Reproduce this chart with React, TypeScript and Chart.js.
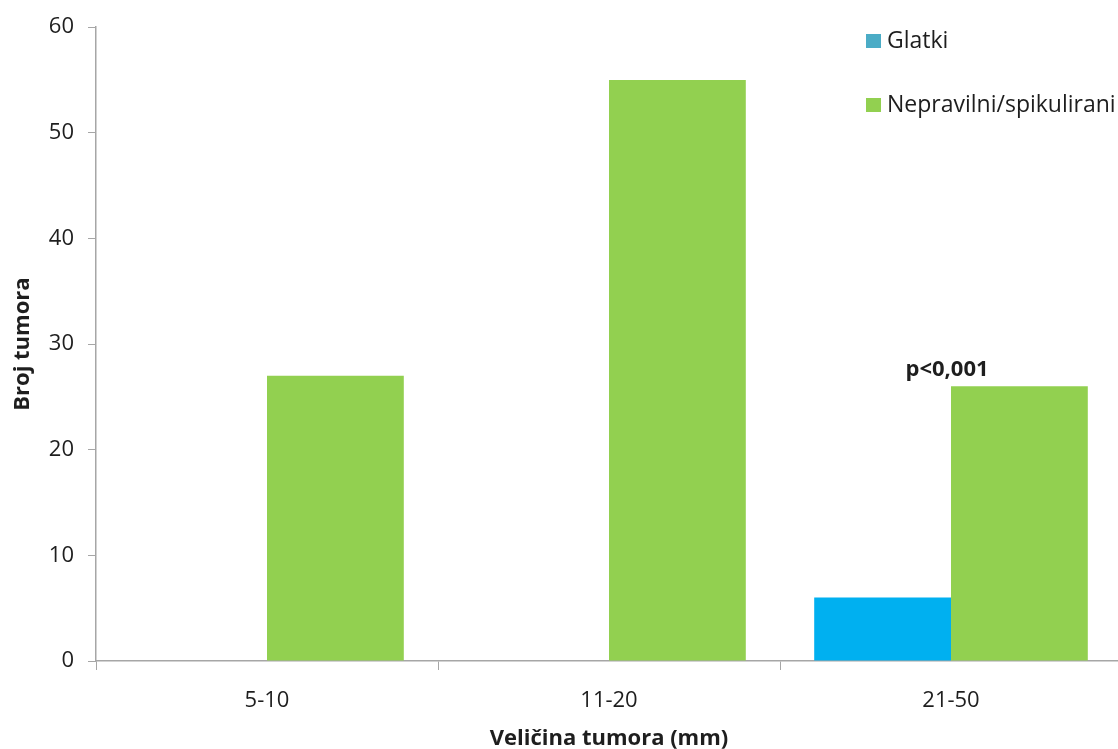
import React, { useEffect, useRef } from "react";
import { Chart, registerables } from "chart.js";

Chart.register(...registerables);

const categories = ["5-10", "11-20", "21-50"];
const glatki = [0, 0, 6];
const nepravilni = [27, 55, 26];
const yTicks = [0, 10, 20, 30, 40, 50, 60];
const seriesNames = ["Glatki", "Nepravilni/spikulirani"];
const legendColors = ["#4BACC6", "#92D050"];
const annotationText = "p<0,001";

const FONT = "'Open Sans', sans-serif";
const TEXT = "#1e1e1e";
const AXIS = "#a6a6a6";

const overlayPlugin = {
  id: "overlay",
  afterDraw(chart: any) {
    const ctx = chart.ctx;
    const xs = chart.scales.x;
    const ys = chart.scales.y;
    ctx.save();
    // annotation
    ctx.font = `bold 22px ${FONT}`;
    ctx.fillStyle = TEXT;
    ctx.textAlign = "center";
    ctx.textBaseline = "bottom";
    ctx.fillText(annotationText, xs.getPixelForValue(2) - 4, ys.getPixelForValue(nepravilni[2]) - 6);
    // legend
    ctx.textAlign = "left";
    ctx.textBaseline = "middle";
    ctx.font = `23px ${FONT}`;
    const rows = [41, 105];
    seriesNames.forEach((n, i) => {
      ctx.fillStyle = legendColors[i];
      ctx.fillRect(866, rows[i] - 7, 15, 14);
      ctx.fillStyle = TEXT;
      ctx.fillText(n, 887, rows[i]);
    });
    ctx.restore();
  },
};

export default function App() {
  const ref = useRef<HTMLCanvasElement>(null);
  useEffect(() => {
    if (!ref.current) return;
    const chart = new Chart(ref.current, {
      type: "bar",
      data: {
        labels: categories,
        datasets: [
          { label: seriesNames[0], data: glatki, backgroundColor: "#00B0F0", borderWidth: 0 },
          { label: seriesNames[1], data: nepravilni, backgroundColor: "#92D050", borderWidth: 0 },
        ],
      },
      options: {
        animation: false,
        responsive: false,
        maintainAspectRatio: false,
        layout: { padding: { top: 27, right: 0, left: 0, bottom: 0 } },
        datasets: { bar: { categoryPercentage: 0.8, barPercentage: 1.0 } },
        plugins: { legend: { display: false }, tooltip: { enabled: false } },
        scales: {
          x: {
            offset: true,
            grid: {
              offset: true,
              drawOnChartArea: false,
              drawTicks: true,
              tickLength: 9,
              color: AXIS,
            },
            border: { color: AXIS, width: 1.5 },
            ticks: { color: TEXT, font: { size: 22, family: FONT }, padding: 18 },
            title: {
              display: true,
              text: "Veličina tumora (mm)",
              color: TEXT,
              font: { size: 22, weight: "bold", family: FONT },
              padding: { top: 4, bottom: -3 },
            },
            afterFit(s: any) {
              s.height = 88;
            },
          },
          y: {
            min: 0,
            max: 60,
            afterBuildTicks(s: any) {
              s.ticks = yTicks.map((v) => ({ value: v }));
            },
            grid: { drawOnChartArea: false, drawTicks: true, tickLength: 8, color: AXIS },
            border: { color: AXIS, width: 1.5 },
            ticks: { color: TEXT, font: { size: 22, family: FONT }, padding: 14 },
            title: {
              display: true,
              text: "Broj tumora",
              color: TEXT,
              font: { size: 22, weight: "bold", family: FONT },
              padding: { top: 10, bottom: 0 },
            },
            afterFit(s: any) {
              s.width = 96;
            },
          },
        },
      },
      plugins: [overlayPlugin],
    });
    return () => chart.destroy();
  }, []);
  return (
    <div style={{ position: "absolute", left: 0, top: 0, width: 1118, height: 749, overflow: "hidden", background: "#fff" }}>
      <canvas ref={ref} width={1122} height={749} style={{ display: "block" }} />
    </div>
  );
}
